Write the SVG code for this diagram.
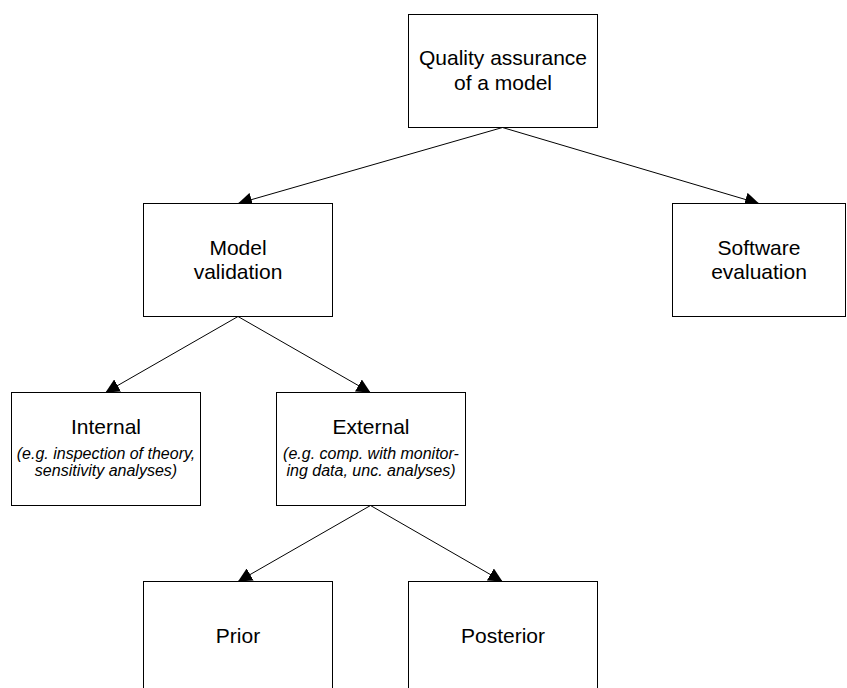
<svg xmlns="http://www.w3.org/2000/svg" width="847" height="688" viewBox="0 0 847 688">
<style>
.box{fill:#fff;stroke:#000;stroke-width:1}
.t{font-family:"Liberation Sans",Arial,sans-serif;font-size:21px;fill:#000;text-anchor:middle}
.i{font-family:"Liberation Sans",Arial,sans-serif;font-size:16px;font-style:italic;fill:#000;text-anchor:middle}
.c{stroke:#000;stroke-width:1;fill:none;marker-end:url(#ah)}
</style>
<defs>
<marker id="ah" markerUnits="userSpaceOnUse" markerWidth="14" markerHeight="14" refX="14" refY="7" orient="auto">
<path d="M0,0 L14,7 L0,14 z" fill="#000"/>
</marker>
</defs>
<rect width="847" height="688" fill="#fff"/>
<g id="connectors">
<line class="c" x1="502.5" y1="127.5" x2="238" y2="203.5"/>
<line class="c" x1="502.5" y1="127.5" x2="759" y2="203.5"/>
<line class="c" x1="238" y1="316.5" x2="105.5" y2="392.5"/>
<line class="c" x1="238" y1="316.5" x2="370.5" y2="392.5"/>
<line class="c" x1="370.5" y1="505.5" x2="238" y2="581.5"/>
<line class="c" x1="370.5" y1="505.5" x2="502.5" y2="581.5"/>
</g>
<g id="quality">
<rect class="box" x="408.5" y="14.5" width="189" height="113"/>
<text class="t" x="503" y="65">Quality assurance</text>
<text class="t" x="503" y="90">of a model</text>
</g>
<g id="model-validation">
<rect class="box" x="143.5" y="203.5" width="189" height="113"/>
<text class="t" x="238" y="255">Model</text>
<text class="t" x="238" y="279">validation</text>
</g>
<g id="software">
<rect class="box" x="672.5" y="203.5" width="173" height="113"/>
<text class="t" x="759" y="255">Software</text>
<text class="t" x="759" y="279">evaluation</text>
</g>
<g id="internal">
<rect class="box" x="11.5" y="392.5" width="189" height="113"/>
<text class="t" x="106" y="434">Internal</text>
<text class="i" x="106" y="459">(e.g. inspection of theory,</text>
<text class="i" x="106" y="476">sensitivity analyses)</text>
</g>
<g id="external">
<rect class="box" x="276.5" y="392.5" width="189" height="113"/>
<text class="t" x="371" y="434">External</text>
<text class="i" x="371" y="459">(e.g. comp. with monitor-</text>
<text class="i" x="371" y="476">ing data, unc. analyses)</text>
</g>
<g id="prior">
<rect class="box" x="143.5" y="581.5" width="189" height="113"/>
<text class="t" x="238" y="643">Prior</text>
</g>
<g id="posterior">
<rect class="box" x="408.5" y="581.5" width="189" height="113"/>
<text class="t" x="503" y="643">Posterior</text>
</g>
</svg>
